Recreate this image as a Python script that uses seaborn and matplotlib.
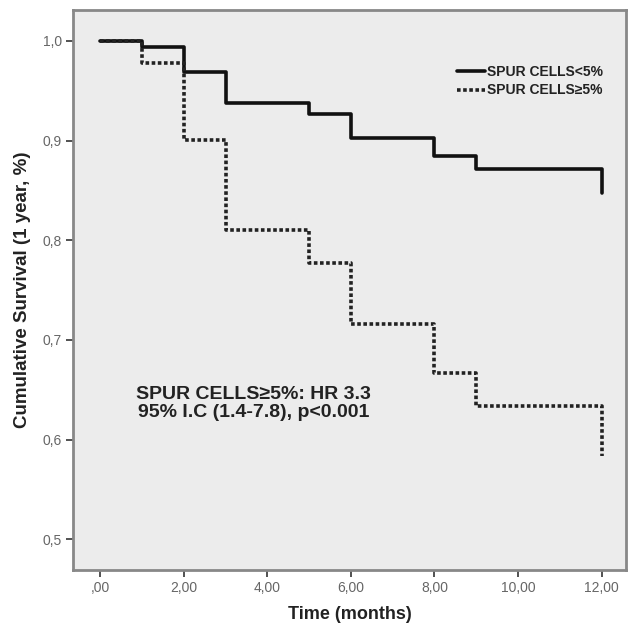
import matplotlib
matplotlib.use("Agg")
import matplotlib.pyplot as plt
import seaborn as sns
import pandas as pd

# Data (Kaplan-Meier steps)
times_low = [0, 1, 2, 3, 5, 6, 8, 9, 12, 12]
surv_low = [1.0, 0.994, 0.969, 0.938, 0.927, 0.903, 0.885, 0.872, 0.872, 0.847]
times_high = [0, 1, 2, 3, 5, 6, 8, 9, 12, 12]
surv_high = [1.0, 0.978, 0.901, 0.810, 0.777, 0.716, 0.667, 0.634, 0.634, 0.584]
groups = ["SPUR CELLS<5%", "SPUR CELLS\u22655%"]

x_ticks = [0, 2, 4, 6, 8, 10, 12]
x_ticklabels = [",00", "2,00", "4,00", "6,00", "8,00", "10,00", "12,00"]
y_ticks = [0.5, 0.6, 0.7, 0.8, 0.9, 1.0]
y_ticklabels = ["0,5", "0,6", "0,7", "0,8", "0,9", "1,0"]

df = pd.concat([
    pd.DataFrame({"time": times_low, "surv": surv_low, "group": groups[0]}),
    pd.DataFrame({"time": times_high, "surv": surv_high, "group": groups[1]}),
], ignore_index=True)

sns.set_style("white")
plt.rcParams["font.family"] = ["Liberation Sans", "DejaVu Sans"]

fig = plt.figure(figsize=(6.29, 6.30), dpi=100)
ax = fig.add_axes([0.116, 0.095, 0.879, 0.889])
ax.set_facecolor("#ececec")

sns.lineplot(data=df, x="time", y="surv", hue="group", style="group",
             palette={groups[0]: "#111111", groups[1]: "#222222"},
             dashes={groups[0]: "", groups[1]: (1, 0.7)},
             estimator=None, sort=False, drawstyle="steps-post",
             linewidth=2.6, ax=ax, legend=True)

ax.set_xlim(-0.65, 12.58)
ax.set_ylim(0.469, 1.031)
ax.set_xticks(x_ticks)
ax.set_xticklabels(x_ticklabels, fontsize=10, color="#666666")
ax.set_yticks(y_ticks)
ax.set_yticklabels(y_ticklabels, fontsize=10, color="#666666")
ax.tick_params(axis="both", direction="out", length=5, width=1.2, color="#333333",
               bottom=True, left=True, pad=3)
for s in ax.spines.values():
    s.set_color("#888888")
    s.set_linewidth(2)

ax.set_xlabel("Time (months)", fontsize=13, fontweight="bold", color="#222222",
              labelpad=8)
ax.set_ylabel("Cumulative Survival (1 year, %)", fontsize=13.5, fontweight="bold",
              color="#222222", labelpad=8)

ax.text(3.68, 0.636, "SPUR CELLS\u22655%: HR 3.3\n95% I.C (1.4-7.8), p<0.001",
        ha="center", va="center", fontsize=14, fontweight="bold", color="#222222",
        linespacing=1.08)

leg = ax.legend(loc="upper right", bbox_to_anchor=(0.972, 0.915), frameon=False,
                prop={"size": 10, "weight": "bold"}, handlelength=2.0,
                handletextpad=0.2, labelspacing=0.35, borderpad=0)
for t in leg.get_texts():
    t.set_color("#222222")

fig.savefig("out.png", dpi=100)
